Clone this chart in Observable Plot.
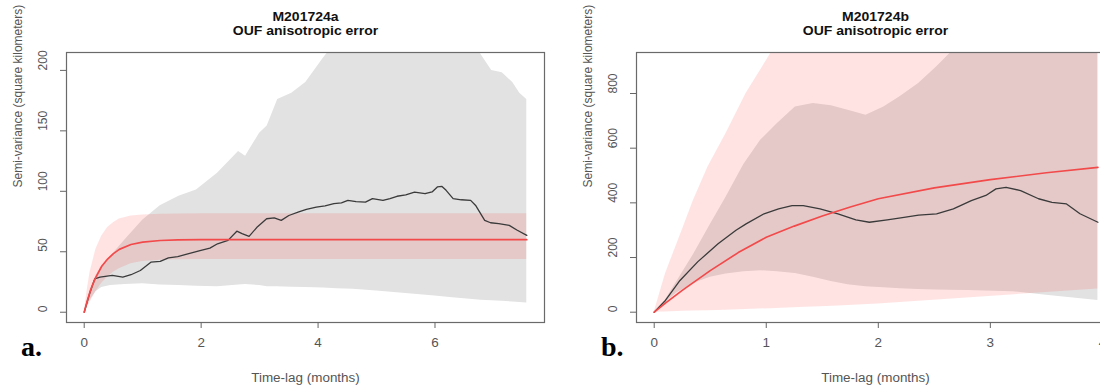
<!DOCTYPE html>
<html>
<head>
<meta charset="utf-8">
<script src="https://cdn.jsdelivr.net/npm/d3@7"></script>
<script src="https://cdn.jsdelivr.net/npm/@observablehq/plot@0.6"></script>
<style>
  html, body { margin: 0; padding: 0; background: white; overflow: hidden; }
  #wrap { position: relative; width: 1100px; height: 387px; overflow: hidden; background: white; }
  .panel { position: absolute; top: 0; width: 550px; height: 387px; }
  .panel svg { max-width: none !important; width: 550px; height: 387px; }
  .tag { position: absolute; font-family: "Liberation Serif", "Times New Roman", serif; font-weight: bold; font-size: 28px; line-height: 1; color: #000; }
</style>
</head>
<body>
<div id="wrap">
  <div class="panel" id="pa" style="left:0px"></div>
  <div class="panel" id="pb" style="left:570px"></div>
  <div class="tag" style="left:21px; top:333px">a.</div>
  <div class="tag" style="left:601px; top:333px">b.</div>
</div>
<script>
// ---------- Panel a: M201724a ----------
const aTitle = ["M201724a", "OUF anisotropic error"];
const aXTicks = [0, 2, 4, 6];
const aYTicks = [0, 50, 100, 150, 200];
// empirical variogram CI (gray)
const aGrayX  = [0, 0.1, 0.2, 0.3, 0.45, 0.7, 1.0, 1.3, 1.62, 1.92, 2.28, 2.64, 2.76, 3.0, 3.13, 3.31, 3.55, 3.79, 4.09, 4.33, 4.6, 5.0, 5.5, 6.0, 6.3, 6.55, 6.79, 6.97, 7.15, 7.33, 7.45, 7.57];
const aGrayHi = [0, 18, 30, 38, 46, 60, 76, 88, 96, 101, 115, 133, 129, 148, 154, 176, 181, 190, 210, 225, 240, 250, 255, 250, 240, 232, 213, 200, 198, 190, 181, 176];
const aGrayLo = [0, 10, 17, 20.5, 22, 23, 23.5, 22.5, 22, 21.5, 21, 22.5, 23, 22, 21, 21, 20.7, 20.5, 20, 19.5, 19, 17.5, 15.5, 13.5, 12, 11, 10, 9.5, 9, 8.5, 8, 7.7];
// model CI (pink)
const aPinkX  = [0, 0.05, 0.1, 0.2, 0.3, 0.4, 0.5, 0.6, 0.8, 1.0, 1.3, 1.6, 2.0, 7.57];
const aPinkHi = [0, 18, 33, 52, 63, 70, 74, 77, 79.5, 80.5, 81, 81.3, 81.5, 81.5];
const aPinkLo = [0, 4, 8, 17, 24, 29, 33, 36, 40, 42, 43, 43.5, 43.6, 43.6];
// model variogram (red)
const aModX = [0, 0.05, 0.1, 0.15, 0.2, 0.3, 0.4, 0.5, 0.6, 0.8, 1.0, 1.3, 1.6, 2.0, 7.57];
const aModY = [0, 9, 17, 23.5, 29, 38, 44, 48.5, 52, 56, 58, 59.3, 59.8, 60, 60];
// empirical variogram (black)
const aEmpX = [0, 0.09, 0.18, 0.27, 0.48, 0.66, 0.8, 0.96, 1.14, 1.3, 1.44, 1.6, 1.74, 1.98, 2.15, 2.28, 2.46, 2.61, 2.7, 2.82, 2.95, 3.12, 3.25, 3.37, 3.5, 3.67, 3.8, 3.97, 4.12, 4.27, 4.4, 4.51, 4.65, 4.81, 4.93, 5.11, 5.23, 5.35, 5.5, 5.65, 5.83, 5.95, 6.04, 6.12, 6.19, 6.31, 6.45, 6.61, 6.7, 6.85, 6.95, 7.09, 7.27, 7.4, 7.57];
const aEmpY = [0, 15, 27.6, 29, 30.4, 29, 31, 34.5, 41.4, 42, 45, 46, 47.8, 51, 53, 56.6, 59.4, 67, 65, 62.7, 70, 77.3, 78, 76, 80, 82.9, 85, 87, 88, 89.8, 90.5, 92.5, 91.5, 91, 94, 92.5, 94, 95.9, 97, 99.4, 98, 99.5, 103.6, 104, 100.8, 94, 93, 92.5, 88, 76, 74, 73.2, 71.8, 68, 63.5];

// ---------- Panel b: M201724b ----------
const bTitle = ["M201724b", "OUF anisotropic error"];
const bXTicks = [0, 1, 2, 3, 4];
const bYTicks = [0, 200, 400, 600, 800];
const bGrayX  = [0, 0.1, 0.2, 0.35, 0.5, 0.64, 0.8, 0.95, 1.1, 1.26, 1.42, 1.58, 1.73, 1.89, 2.05, 2.2, 2.36, 2.52, 2.64, 2.8, 3.2, 3.5, 3.96];
const bGrayHi = [0, 45, 110, 210, 320, 420, 540, 629, 690, 751, 763, 755, 739, 720, 751, 790, 837, 897, 946, 1000, 1050, 1080, 1100];
const bGrayLo = [0, 35, 70, 105, 128, 140, 148, 152, 148, 142, 128, 112, 100, 93, 89, 86, 83, 81, 80, 79, 75, 62, 43];
const bPinkX  = [0, 0.1, 0.26, 0.35, 0.48, 0.64, 0.82, 1.04, 1.3, 1.6, 2.0, 3.96];
const bPinkHi = [0, 140, 311, 409, 531, 653, 800, 946, 1100, 1250, 1400, 2000];
const bPinkLo = [0, 1, 3, 4, 5, 7, 10, 13, 17, 22, 30, 85];
const bModX = [0, 0.1, 0.25, 0.5, 0.75, 1.0, 1.25, 1.5, 1.75, 2.0, 2.5, 3.0, 3.5, 3.96];
const bModY = [0, 33, 80, 152, 218, 274, 315, 352, 385, 415, 455, 485, 510, 530];
const bEmpX = [0, 0.1, 0.23, 0.39, 0.57, 0.73, 0.82, 0.98, 1.11, 1.23, 1.33, 1.48, 1.64, 1.8, 1.92, 2.08, 2.2, 2.36, 2.52, 2.67, 2.83, 2.96, 3.05, 3.14, 3.27, 3.43, 3.55, 3.68, 3.8, 3.96];
const bEmpY = [0, 43, 116, 185, 250, 300, 323, 360, 378, 390, 390, 378, 360, 338, 329, 338, 345, 355, 360, 378, 408, 427, 451, 457, 445, 415, 402, 396, 360, 329];

const xLabel = "Time-lag (months)";
const yLabel = "Semi-variance (square kilometers)";

const band = (xs, lo, hi) => xs.map((x, i) => ({x, lo: lo[i], hi: hi[i]}));
const line = (xs, ys) => xs.map((x, i) => ({x, y: ys[i]}));

function panel(cfg) {
  const tickCol = "#555";
  return Plot.plot({
    width: 550, height: 387,
    marginLeft: 66, marginRight: 6, marginTop: 52, marginBottom: 65,
    x: {domain: cfg.xDomain},
    y: {domain: cfg.yDomain},
    style: {fontFamily: "'Liberation Sans', Arial, sans-serif", background: "white", overflow: "visible"},
    marks: [
      Plot.areaY(band(cfg.grayX, cfg.grayLo, cfg.grayHi), {x: "x", y1: "lo", y2: "hi", fill: "#e2e2e2", clip: true}),
      Plot.areaY(band(cfg.pinkX, cfg.pinkLo, cfg.pinkHi), {x: "x", y1: "lo", y2: "hi", fill: "#ff0000", fillOpacity: 0.11, clip: true}),
      Plot.line(line(cfg.empX, cfg.empY), {x: "x", y: "y", stroke: "#3a3a3a", strokeWidth: 1.3, clip: true}),
      Plot.line(line(cfg.modX, cfg.modY), {x: "x", y: "y", stroke: "#f24a4a", strokeWidth: 1.7, clip: true}),
      Plot.frame({stroke: "#6a6a6a", strokeWidth: 1.2}),
      Plot.axisX({ticks: cfg.xTicks, tickSize: 6, tickPadding: 10, fontSize: 12, label: null, stroke: "#666", fill: tickCol, tickFormat: d => String(d)}),
      Plot.axisY({ticks: cfg.yTicks, tickSize: 6, tickPadding: 0, label: null, stroke: "#666", tickFormat: () => ""}),
      Plot.text(cfg.yTicks, {y: d => d, frameAnchor: "left", text: d => String(d), rotate: -90, dx: -23, lineAnchor: "middle", fontSize: 12, fill: tickCol}),
      Plot.text([yLabel], {frameAnchor: "left", text: d => d, rotate: -90, dx: -48, lineAnchor: "middle", fontSize: 12, fill: "#555"}),
      Plot.text([xLabel], {frameAnchor: "bottom", text: d => d, dy: 56, lineAnchor: "middle", fontSize: 12, fill: "#555"}),
      Plot.text([cfg.title[0]], {frameAnchor: "top", text: d => d, dy: -36, lineAnchor: "middle", fontSize: 12.5, fontWeight: "bold", fill: "#111"}),
      Plot.text([cfg.title[1]], {frameAnchor: "top", text: d => d, dy: -22, lineAnchor: "middle", fontSize: 12.5, fontWeight: "bold", fill: "#111"})
    ]
  });
}

const pa = panel({
  title: aTitle, xTicks: aXTicks, yTicks: aYTicks,
  xDomain: [-0.303, 7.873], yDomain: [-8.5, 214.8],
  grayX: aGrayX, grayLo: aGrayLo, grayHi: aGrayHi,
  pinkX: aPinkX, pinkLo: aPinkLo, pinkHi: aPinkHi,
  modX: aModX, modY: aModY, empX: aEmpX, empY: aEmpY
});
const pb = panel({
  title: bTitle, xTicks: bXTicks, yTicks: bYTicks,
  xDomain: [-0.158, 4.108], yDomain: [-37.7, 950],
  grayX: bGrayX, grayLo: bGrayLo, grayHi: bGrayHi,
  pinkX: bPinkX, pinkLo: bPinkLo, pinkHi: bPinkHi,
  modX: bModX, modY: bModY, empX: bEmpX, empY: bEmpY
});
document.getElementById("pa").appendChild(pa);
document.getElementById("pb").appendChild(pb);

// the reference figure is slightly stretched horizontally: widen horizontal texts a bit
for (const svg of [pa, pb]) {
  svg.querySelectorAll("text").forEach(t => {
    const tr = (t.getAttribute("transform") || "") + (t.parentNode.getAttribute && (t.parentNode.getAttribute("transform") || ""));
    if (tr.includes("rotate")) return;
    const len = t.getComputedTextLength();
    if (len > 0) {
      t.setAttribute("textLength", (len * 1.12).toFixed(1));
      t.setAttribute("lengthAdjust", "spacingAndGlyphs");
    }
  });
}
</script>
</body>
</html>
